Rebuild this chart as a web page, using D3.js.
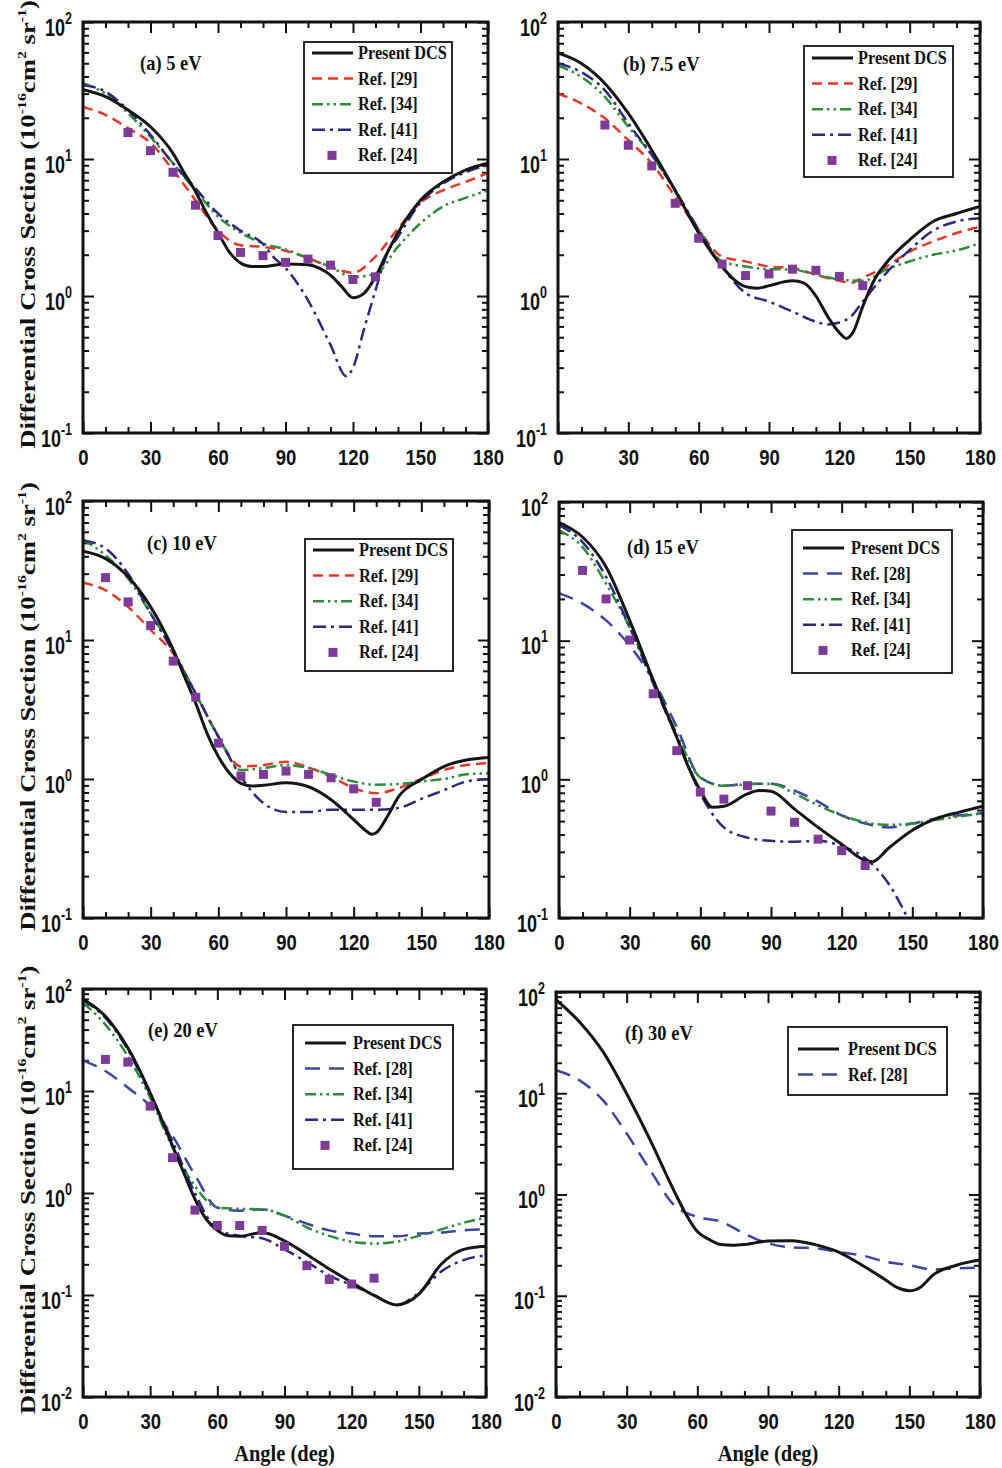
<!DOCTYPE html>
<html><head><meta charset="utf-8">
<script src="https://cdn.jsdelivr.net/npm/d3@7"></script>
<style>body{margin:0;background:#fff}svg{display:block}</style>
</head><body>
<script>
// ---------- DATA ----------
const ang10 = [0,10,20,30,40,50,60,70,80,90,100,110,120,130,140,150,160,170,180];
const ang24from20 = [20,30,40,50,60,70,80,90,100,110,120,130];
const ang24from10 = [10,20,30,40,50,60,70,80,90,100,110,120,130];
const xTickLabels = [0,30,60,90,120,150,180];

// (a) 5 eV
const aXdcs = [0,10,20,30,40,45,50,55,60,65,70,75,80,90,100,105,110,115,120,125,130,135,140,150,160,170,180];
const aDcs  = [32,28.5,22.8,17.2,11,7.9,5.8,4.0,2.9,2.1,1.74,1.64,1.64,1.71,1.69,1.6,1.42,1.17,0.97,1.05,1.38,2.04,2.9,5.0,6.8,8.3,9.3];
const a29   = [24,21,16.8,13.1,8.3,5.0,3.0,2.35,2.28,2.14,1.89,1.63,1.48,1.94,3.1,4.8,5.9,6.8,7.9];
const a34   = [35.7,30,21.6,14.5,9.3,5.9,3.8,2.9,2.42,2.19,1.89,1.63,1.38,1.45,2.29,3.4,4.5,5.2,5.9];
const aX41  = [0,10,20,30,40,50,60,70,80,85,90,100,110,117,120,125,130,135,140,150,160,170,180];
const a41   = [34.7,31,22.8,15,9.3,6.1,4.0,3.0,2.4,1.9,1.6,0.93,0.44,0.26,0.3,0.58,1.1,2.0,2.7,4.8,6.6,8.0,9.0];
const a24   = [15.6,11.5,8.0,4.6,2.76,2.08,1.97,1.76,1.86,1.68,1.32,1.38];

// (b) 7.5 eV
const bXdcs = [0,10,20,30,40,50,60,70,75,80,85,90,100,105,110,115,120,123,126,130,135,140,150,160,170,180];
const bDcs  = [59.5,49.8,35.6,21.5,11.6,5.9,2.88,1.64,1.32,1.17,1.14,1.19,1.29,1.24,1.0,0.71,0.54,0.49,0.55,0.84,1.32,1.74,2.57,3.5,4.0,4.5];
const bX29  = [0,10,20,30,40,50,60,70,80,90,100,110,120,125,130,140,150,160,170,180];
const b29   = [30,25.4,19.8,13.7,9.3,5.3,3.04,1.94,1.79,1.64,1.6,1.43,1.29,1.25,1.36,1.64,2.11,2.5,2.88,3.2];
const b34   = [48,39.7,28.4,17.2,10.7,5.8,3.04,1.79,1.64,1.57,1.56,1.43,1.32,1.29,1.56,1.79,2.0,2.15,2.43];
const bX41  = [0,10,20,30,40,50,60,70,80,90,100,110,115,120,125,130,140,150,160,170,180];
const b41   = [49.8,43,31.7,18.2,10.7,5.9,3.04,1.64,1.05,0.91,0.77,0.65,0.62,0.64,0.71,0.91,1.47,2.17,3.0,3.5,3.7];
const b24   = [17.7,12.6,8.9,4.75,2.64,1.71,1.41,1.45,1.57,1.54,1.39,1.19];

// (c) 10 eV
const cXdcs = [0,10,20,30,40,45,50,55,60,65,70,75,80,90,100,110,120,125,128,130,135,140,150,160,170,180];
const cDcs  = [43.5,38.5,28.5,17.3,8.5,5.45,3.5,2.13,1.45,1.1,0.93,0.89,0.9,0.94,0.88,0.71,0.51,0.43,0.4,0.41,0.54,0.75,0.99,1.23,1.37,1.43];
const c29   = [25.8,22.8,17.3,11.8,8.0,4.1,2.02,1.23,1.26,1.33,1.21,1.04,0.86,0.79,0.86,1.0,1.16,1.26,1.3];
const c34   = [52.7,40.7,27.7,15.5,8.5,4.1,2.02,1.16,1.2,1.26,1.2,1.07,0.96,0.91,0.92,0.96,1.0,1.08,1.1];
const c41   = [52,45.5,30,15.5,8.2,4.1,2.02,1.04,0.67,0.58,0.58,0.6,0.6,0.6,0.62,0.72,0.83,0.96,1.0];
const c24   = [28.1,18.8,12.7,7.05,3.87,1.81,1.05,1.08,1.14,1.08,1.02,0.85,0.68];

// (d) 15 eV
const dXdcs = [0,10,20,30,40,50,55,60,65,70,80,85,90,100,110,120,130,133,140,150,160,170,180];
const dDcs  = [71,55.9,34,14,5.2,2.01,1.22,0.83,0.63,0.64,0.785,0.83,0.82,0.61,0.45,0.34,0.26,0.255,0.32,0.43,0.52,0.58,0.64];
const d28   = [22,18.5,14,9.2,5.2,2.38,1.03,0.9,0.93,0.93,0.83,0.69,0.55,0.48,0.45,0.48,0.52,0.55,0.57];
const d34   = [62.5,47.3,25.7,12.5,5.2,2.13,1.03,0.9,0.92,0.93,0.79,0.65,0.55,0.49,0.47,0.48,0.51,0.54,0.57];
const dX41  = [0,10,20,30,40,50,60,70,80,90,100,110,120,130,140,150];
const d41   = [68,51.4,28.8,12.5,4.9,2.0,0.79,0.45,0.38,0.36,0.355,0.36,0.33,0.27,0.176,0.085];
const d24   = [32.1,20,10.1,4.14,1.61,0.81,0.72,0.9,0.59,0.49,0.37,0.306,0.239];

// (e) 20 eV
const eXdcs = [0,10,20,30,40,45,50,55,60,65,70,80,90,100,110,120,130,140,145,150,160,170,180];
const eDcs  = [79.8,54,26.5,9.6,2.89,1.58,0.87,0.555,0.43,0.38,0.376,0.41,0.34,0.25,0.18,0.133,0.099,0.08,0.085,0.102,0.2,0.28,0.30];
const e28   = [20,15.7,10.8,7.1,3.62,1.5,0.72,0.67,0.69,0.6,0.5,0.43,0.4,0.376,0.376,0.4,0.41,0.43,0.44];
const e34   = [73,44.8,22,8.6,2.79,1.17,0.72,0.7,0.69,0.6,0.46,0.38,0.333,0.32,0.333,0.38,0.44,0.51,0.575];
const e41   = [78,52,25.5,9.2,3.2,1.0,0.44,0.38,0.36,0.28,0.21,0.155,0.125,0.1,0.08,0.105,0.17,0.22,0.245];
const e24   = [20.4,19.2,7.1,2.22,0.68,0.48,0.48,0.43,0.3,0.194,0.142,0.128,0.146];

// (f) 30 eV
const fXdcs = [0,10,20,30,40,50,55,60,65,70,75,80,90,100,110,120,130,140,145,150,155,160,170,180];
const fDcs  = [84,50.6,25.6,9.9,3.44,1.1,0.65,0.43,0.36,0.32,0.315,0.32,0.347,0.35,0.32,0.27,0.2,0.143,0.12,0.112,0.123,0.16,0.2,0.225];
const f28   = [16.9,13.4,8.5,4.0,1.74,0.79,0.6,0.54,0.41,0.33,0.3,0.295,0.27,0.25,0.217,0.2,0.182,0.186,0.19];

const seriesNames = {dcs:'Present DCS', r29:'Ref. [29]', r28:'Ref. [28]', r34:'Ref. [34]', r41:'Ref. [41]', r24:'Ref. [24]'};

// ---------- STYLE / LAYOUT ----------
const STYLE = {
  dcs:{stroke:'#151515', w:3, dash:null},
  r29:{stroke:'#e2382c', w:2.5, dash:'10,6'},
  r34:{stroke:'#2f8c3c', w:2.5, dash:'11,4,2.5,4,2.5,4'},
  r41:{stroke:'#2c2a7c', w:2.5, dash:'13,5,3,5'},
  r28:{stroke:'#3d459f', w:2.5, dash:'15,9'}
};
const SQ = '#7d3a96';
const SANS = "'Liberation Sans', Arial, sans-serif";
const SERIF = "'Liberation Serif', 'Times New Roman', serif";

const panels = [
 {box:[83,22,488,433], dec:[-1,2], label:'(a) 5 eV', lab:[140,70], ytitle:true, xtitle:false,
  leg:[304,42,148,131,11,8,54],
  lines:[['r29',ang10,a29],['r34',ang10,a34],['r41',aX41,a41],['dcs',aXdcs,aDcs]],
  pts:[ang24from20,a24], legend:['dcs','r29','r34','r41','r24']},
 {box:[558,22,980,433], dec:[-1,2], label:'(b) 7.5 eV', lab:[623,71], ytitle:false, xtitle:false,
  leg:[804,46,149,131,12,8,54],
  lines:[['r29',bX29,b29],['r34',ang10,b34],['r41',bX41,b41],['dcs',bXdcs,bDcs]],
  pts:[ang24from20,b24], legend:['dcs','r29','r34','r41','r24']},
 {box:[83,501,489,918], dec:[-1,2], label:'(c) 10 eV', lab:[147,550], ytitle:true, xtitle:false,
  leg:[305,539,148,132,11,8,54],
  lines:[['r29',ang10,c29],['r34',ang10,c34],['r41',ang10,c41],['dcs',cXdcs,cDcs]],
  pts:[ang24from10,c24], legend:['dcs','r29','r34','r41','r24']},
 {box:[559,502,983,918], dec:[-1,2], label:'(d) 15 eV', lab:[627,554], ytitle:false, xtitle:false,
  leg:[792,530,160,143,18,11,59],
  lines:[['r28',ang10,d28],['r34',ang10,d34],['r41',dX41,d41],['dcs',dXdcs,dDcs]],
  pts:[ang24from10,d24], legend:['dcs','r28','r34','r41','r24']},
 {box:[83,989,486,1397], dec:[-2,2], label:'(e) 20 eV', lab:[148,1037], ytitle:true, xtitle:true,
  leg:[293,1025,160,144,18,12,60],
  lines:[['r28',ang10,e28],['r34',ang10,e34],['r41',ang10,e41],['dcs',eXdcs,eDcs]],
  pts:[ang24from10,e24], legend:['dcs','r28','r34','r41','r24']},
 {box:[556,992,980,1397], dec:[-2,2], label:'(f) 30 eV', lab:[625,1040], ytitle:false, xtitle:true,
  leg:[788,1027,159,68,22,10,60],
  lines:[['r28',ang10,f28],['dcs',fXdcs,fDcs]],
  pts:null, legend:['dcs','r28']}
];

const W=1002, H=1468;
const svg = d3.select('body').append('svg').attr('width',W).attr('height',H).style('background','#fff');

panels.forEach((p,pi)=>{
  const [x0,y0,x1,y1] = p.box;
  const x = d3.scaleLinear().domain([0,180]).range([x0,x1]);
  const y = d3.scaleLog().domain([Math.pow(10,p.dec[0]), Math.pow(10,p.dec[1])]).range([y1,y0]);
  const g = svg.append('g');

  const clipId = 'clip'+pi;
  svg.append('clipPath').attr('id',clipId).append('rect')
     .attr('x',x0).attr('y',y0).attr('width',x1-x0).attr('height',y1-y0);

  const xMajor = xTickLabels;
  const xMinor = d3.range(10,180,10).filter(v=>v%30!==0);
  const decs = d3.range(p.dec[0], p.dec[1]+1).map(d=>Math.pow(10,d));
  const yMinor = [];
  for (let d=p.dec[0]; d<p.dec[1]; d++) for (let k=2;k<=9;k++) yMinor.push(k*Math.pow(10,d));

  const styleAxis = sel => { sel.select('.domain').remove(); sel.selectAll('line').attr('stroke','#111').attr('stroke-width',2); };

  g.append('g').attr('transform',`translate(0,${y1})`)
    .call(d3.axisBottom(x).tickValues(xMajor).tickSizeInner(-11).tickSizeOuter(0).tickPadding(0).tickFormat(d=>d))
    .call(styleAxis)
    .call(s=>s.selectAll('text').attr('dy',null).attr('y',0)
      .attr('transform','translate(0,32) scale(1,1.2)')
      .attr('font-family',SANS).attr('font-weight','bold').attr('font-size',18.5).attr('fill','#111'));
  g.append('g').attr('transform',`translate(0,${y1})`)
    .call(d3.axisBottom(x).tickValues(xMinor).tickSizeInner(-6).tickSizeOuter(0).tickFormat(''))
    .call(styleAxis);
  g.append('g').attr('transform',`translate(0,${y0})`)
    .call(d3.axisTop(x).tickValues(xMajor).tickSizeInner(-11).tickSizeOuter(0).tickFormat(''))
    .call(styleAxis);
  g.append('g').attr('transform',`translate(0,${y0})`)
    .call(d3.axisTop(x).tickValues(xMinor).tickSizeInner(-6).tickSizeOuter(0).tickFormat(''))
    .call(styleAxis);

  const yl = g.append('g').attr('transform',`translate(${x0},0)`)
    .call(d3.axisLeft(y).tickValues(decs).tickSizeInner(-11).tickSizeOuter(0).tickFormat(''))
    .call(styleAxis);
  yl.selectAll('.tick').each(function(d){
    const e = Math.round(Math.log10(d));
    const t = d3.select(this).append('text')
      .attr('transform','translate(-11,13) scale(1,1.3)')
      .attr('text-anchor','end').attr('font-family',SANS).attr('font-weight','bold')
      .attr('font-size',18).attr('fill','#111');
    t.append('tspan').text('10');
    t.append('tspan').attr('dy',-9).attr('font-size',12.5).text(String(e));
  });
  g.append('g').attr('transform',`translate(${x0},0)`)
    .call(d3.axisLeft(y).tickValues(yMinor).tickSizeInner(-6).tickSizeOuter(0).tickFormat(''))
    .call(styleAxis);
  g.append('g').attr('transform',`translate(${x1},0)`)
    .call(d3.axisRight(y).tickValues(decs).tickSizeInner(-11).tickSizeOuter(0).tickFormat(''))
    .call(styleAxis);
  g.append('g').attr('transform',`translate(${x1},0)`)
    .call(d3.axisRight(y).tickValues(yMinor).tickSizeInner(-6).tickSizeOuter(0).tickFormat(''))
    .call(styleAxis);

  const line = d3.line().x(d=>x(d[0])).y(d=>y(d[1])).curve(d3.curveMonotoneX);
  const cg = g.append('g').attr('clip-path',`url(#${clipId})`);
  p.lines.forEach(([key,xs,ys])=>{
    const st = STYLE[key];
    cg.append('path').datum(xs.map((a,i)=>[a,ys[i]]))
      .attr('d',line).attr('fill','none').attr('stroke',st.stroke)
      .attr('stroke-width',st.w).attr('stroke-dasharray',st.dash)
      .attr('stroke-linejoin','round');
  });
  if (p.pts){
    const [xs,ys] = p.pts;
    g.append('g').selectAll('rect').data(xs.map((a,i)=>[a,ys[i]])).join('rect')
      .attr('x',d=>x(d[0])-4.5).attr('y',d=>y(d[1])-4.5).attr('width',9).attr('height',9)
      .attr('fill',SQ);
  }

  g.append('rect').attr('x',x0).attr('y',y0).attr('width',x1-x0).attr('height',y1-y0)
    .attr('fill','none').attr('stroke','#111').attr('stroke-width',3);

  g.append('text').attr('transform',`translate(${p.lab[0]},${p.lab[1]}) scale(1,1.12)`)
    .attr('font-family',SERIF).attr('font-weight','bold').attr('font-size',18.5).attr('fill','#111')
    .text(p.label);

  const [lx,ly,lw,lh,r0,lineX,textX] = p.leg;
  const lg = g.append('g');
  lg.append('rect').attr('x',lx).attr('y',ly).attr('width',lw).attr('height',lh)
    .attr('fill','#fff').attr('stroke','#111').attr('stroke-width',1.8);
  p.legend.forEach((key,i)=>{
    const cy = ly + r0 + i*25.6;
    if (key==='r24'){
      lg.append('rect').attr('x',lx+lineX+20-4.5).attr('y',cy-4.5).attr('width',9).attr('height',9).attr('fill',SQ);
    } else {
      const st = STYLE[key];
      lg.append('line').attr('x1',lx+lineX).attr('x2',lx+lineX+41).attr('y1',cy).attr('y2',cy)
        .attr('stroke',st.stroke).attr('stroke-width',st.w).attr('stroke-dasharray',st.dash);
    }
    lg.append('text').attr('transform',`translate(${lx+textX},${cy+6}) scale(1,1.15)`)
      .attr('font-family',SERIF).attr('font-weight','bold').attr('font-size',16.3).attr('fill','#111')
      .text(seriesNames[key]);
  });

  if (p.ytitle){
    const cy = (y0+y1)/2 - 3;
    const t = svg.append('text').attr('transform',`translate(35,${cy}) rotate(-90) scale(1.27,1)`)
      .attr('text-anchor','middle').attr('font-family',SERIF).attr('font-weight','bold')
      .attr('font-size',21).attr('fill','#111');
    t.append('tspan').text('Differential Cross Section (10');
    t.append('tspan').attr('dy',-9).attr('font-size',12.5).text('-16');
    t.append('tspan').attr('dy',9).text('cm');
    t.append('tspan').attr('dy',-9).attr('font-size',12.5).text('2');
    t.append('tspan').attr('dy',9).text(' sr');
    t.append('tspan').attr('dy',-9).attr('font-size',12.5).text('-1');
    t.append('tspan').attr('dy',9).text(')');
  }
  if (p.xtitle){
    svg.append('text').attr('transform',`translate(${(x0+x1)/2},1461) scale(1,1.15)`)
      .attr('text-anchor','middle').attr('font-family',SERIF).attr('font-weight','bold')
      .attr('font-size',20.5).attr('fill','#111').text('Angle (deg)');
  }
});
</script>
</body></html>
